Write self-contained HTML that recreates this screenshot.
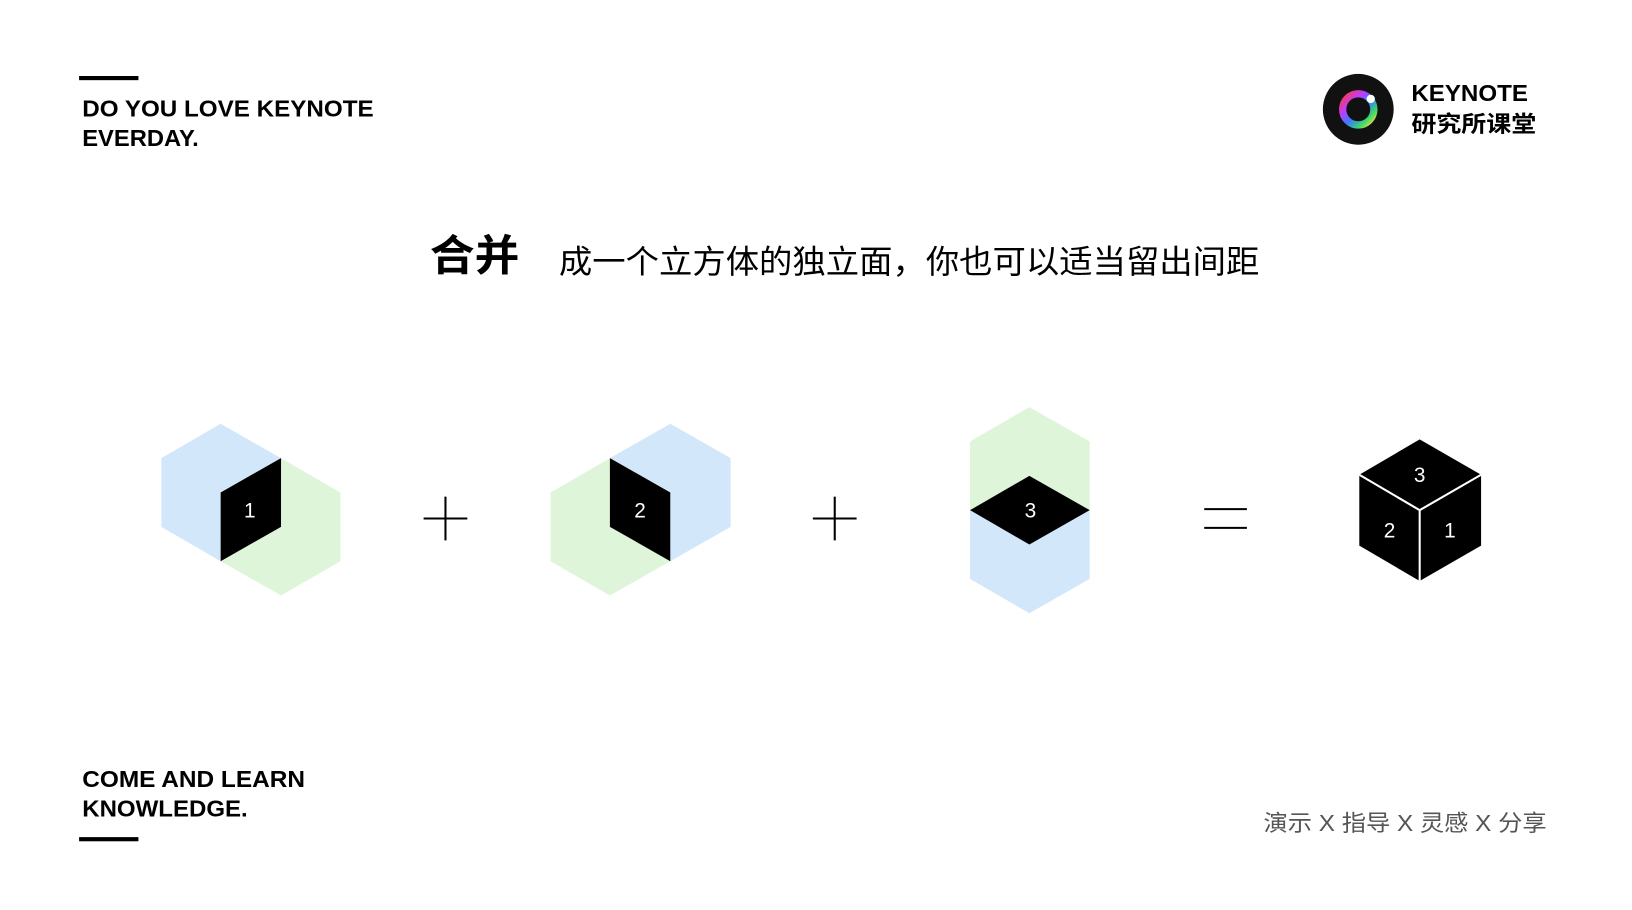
<!DOCTYPE html>
<html><head><meta charset="utf-8"><style>
html,body{margin:0;padding:0;background:#fff;width:1632px;height:910px;overflow:hidden}
svg{display:block}
text{font-family:"Liberation Sans","Noto Sans CJK SC",sans-serif}
</style></head><body>
<svg width="1632" height="910" viewBox="0 0 1568 874" preserveAspectRatio="none" xmlns="http://www.w3.org/2000/svg">
<defs>
<linearGradient id="rg" x1="0" y1="0" x2="1" y2="1">
<stop offset="0" stop-color="#ff3b3b"/><stop offset="0.3" stop-color="#c13bff"/><stop offset="0.55" stop-color="#3b7bff"/><stop offset="0.8" stop-color="#3bd96b"/><stop offset="1" stop-color="#ffd93b"/>
</linearGradient>
</defs>
<rect x="76" y="73" width="57" height="4" fill="#000"/>
<text x="79" y="112" font-size="22" font-weight="bold" textLength="280" lengthAdjust="spacingAndGlyphs">DO YOU LOVE KEYNOTE</text>
<text x="79" y="140" font-size="22" font-weight="bold" textLength="112" lengthAdjust="spacingAndGlyphs">EVERDAY.</text>

<circle cx="1305" cy="105" r="34" fill="#111"/>
<circle cx="1305" cy="105" r="15" fill="none" stroke="url(#rg)" stroke-width="7"/>
<circle cx="1317" cy="95" r="4" fill="#fff"/>
<text x="1356" y="97" font-size="22" font-weight="bold" textLength="112" lengthAdjust="spacingAndGlyphs">KEYNOTE</text>
<text x="1356" y="127" font-size="22" font-weight="bold" textLength="120" lengthAdjust="spacingAndGlyphs">研究所课堂</text>

<text x="413" y="260" font-size="41" font-weight="bold" textLength="86" lengthAdjust="spacingAndGlyphs">合并</text>
<text x="537" y="262" font-size="31" textLength="673" lengthAdjust="spacingAndGlyphs">成一个立方体的独立面，你也可以适当留出间距</text>

<polygon points="212,407 270,440 270,506 212,539 155,506 155,440" fill="#d3e7fb"/>
<polygon points="270,440 327,473 327,539 270,572 212,539 212,506" fill="#dff5d9"/>
<polygon points="212,473 270,440 270,506 212,539" fill="#000"/>
<text x="240" y="497" font-size="20" fill="#fff" text-anchor="middle">1</text>

<line x1="428" y1="477" x2="428" y2="519" stroke="#000" stroke-width="2"/>
<line x1="407" y1="498" x2="449" y2="498" stroke="#000" stroke-width="2"/>

<polygon points="644,407 702,440 702,506 644,539 586,506 586,440" fill="#d3e7fb"/>
<polygon points="586,440 644,473 644,539 586,572 529,539 529,473" fill="#dff5d9"/>
<polygon points="586,440 644,473 644,539 586,506" fill="#000"/>
<text x="615" y="497" font-size="20" fill="#fff" text-anchor="middle">2</text>

<line x1="802" y1="477" x2="802" y2="519" stroke="#000" stroke-width="2"/>
<line x1="781" y1="498" x2="823" y2="498" stroke="#000" stroke-width="2"/>

<polygon points="989,391 1047,424 1047,490 989,523 932,490 932,424" fill="#dff5d9"/>
<polygon points="989,457 1047,490 1047,556 989,589 932,556 932,490" fill="#d3e7fb"/>
<polygon points="932,490 989,457 1047,490 989,523" fill="#000"/>
<text x="990" y="497" font-size="20" fill="#fff" text-anchor="middle">3</text>

<line x1="1157" y1="489" x2="1198" y2="489" stroke="#000" stroke-width="2"/>
<line x1="1157" y1="507" x2="1198" y2="507" stroke="#000" stroke-width="2"/>

<polygon points="1364,422 1423,456 1423,524 1364,558 1306,524 1306,456" fill="#000"/>
<polyline points="1306,456 1364,490 1423,456" fill="none" stroke="#fff" stroke-width="2"/>
<line x1="1364" y1="490" x2="1364" y2="558" stroke="#fff" stroke-width="2"/>
<text x="1364" y="463" font-size="20" fill="#fff" text-anchor="middle">3</text>
<text x="1335" y="516" font-size="20" fill="#fff" text-anchor="middle">2</text>
<text x="1393" y="516" font-size="20" fill="#fff" text-anchor="middle">1</text>

<text x="79" y="756" font-size="22" font-weight="bold" textLength="214" lengthAdjust="spacingAndGlyphs">COME AND LEARN</text>
<text x="79" y="784" font-size="22" font-weight="bold" textLength="159" lengthAdjust="spacingAndGlyphs">KNOWLEDGE.</text>
<rect x="76" y="804" width="57" height="4" fill="#000"/>

<text x="1214" y="798" font-size="22" fill="#555" textLength="272" lengthAdjust="spacingAndGlyphs">演示 X 指导 X 灵感 X 分享</text>
</svg>
</body></html>
